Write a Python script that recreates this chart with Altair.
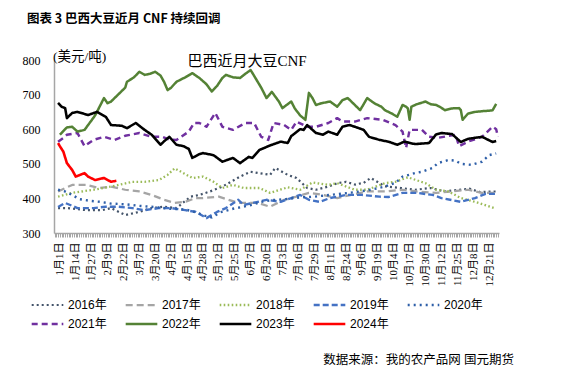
import altair as alt
import pandas as pd

# x positions are trading-day indices (label every 9 days, first label at day 1)
x_labels = ["1月1日", "1月14日", "1月27日", "2月9日", "2月22日", "3月7日", "3月20日",
            "4月2日", "4月15日", "4月28日", "5月12日", "5月25日", "6月7日", "6月20日",
            "7月3日", "7月16日", "7月29日", "8月11日", "8月24日", "9月6日", "9月19日",
            "10月4日", "10月17日", "10月30日", "11月12日", "11月25日", "12月8日", "12月21日"]

years = ["2016年", "2017年", "2018年", "2019年", "2020年",
         "2021年", "2022年", "2023年", "2024年"]

d2016 = [0, 5, 16, 25, 30, 38, 46, 53, 60, 67, 75, 80, 86, 93, 103, 109, 114, 120, 123, 130,
         135, 141, 146, 153, 158, 163, 168, 173, 177, 185, 194, 202, 211, 219, 227, 233, 239, 245, 248]
v2016 = [372, 372, 366, 366, 372, 352, 361, 372, 376, 372, 405, 410, 420, 434, 463, 477, 473, 468, 488, 468,
         459, 430, 425, 434, 444, 448, 440, 445, 459, 435, 430, 425, 430, 420, 425, 428, 418, 420, 420]

d2017 = [0, 8, 16, 23, 30, 38, 46, 53, 60, 66, 72, 78, 82, 91, 102, 113, 120, 128, 135, 142,
         150, 158, 166, 175, 185, 195, 203, 214, 223, 232, 240, 248]
v2017 = [420, 439, 439, 430, 434, 425, 420, 410, 396, 387, 390, 401, 401, 405, 387, 387, 376, 396, 405, 416,
         410, 401, 410, 420, 420, 425, 420, 416, 420, 425, 416, 416]

d2018 = [0, 8, 20, 30, 42, 49, 57, 62, 66, 71, 76, 82, 88, 93, 99, 105, 114, 120, 130, 137,
         144, 153, 158, 168, 175, 185, 191, 198, 208, 214, 221, 228, 236, 247]
v2018 = [405, 416, 425, 434, 448, 448, 453, 468, 487, 473, 459, 463, 448, 430, 439, 430, 430, 416, 432, 425,
         446, 439, 444, 425, 425, 444, 448, 461, 444, 425, 420, 401, 390, 372]

d2019 = [0, 4, 11, 20, 27, 34, 42, 49, 57, 64, 72, 78, 84, 90, 95, 102, 105, 113, 118, 126,
         132, 137, 142, 148, 154, 163, 172, 182, 187, 195, 203, 212, 217, 228, 236, 242, 248]
v2019 = [375, 387, 372, 372, 376, 376, 372, 366, 372, 372, 366, 361, 343, 361, 372, 396, 381, 390, 396, 390,
         401, 410, 396, 390, 401, 410, 410, 405, 404, 416, 416, 410, 401, 390, 401, 413, 413]

d2020 = [0, 4, 8, 12, 18, 24, 30, 38, 47, 55, 63, 72, 78, 83, 87, 92, 99, 104, 110, 115,
         121, 129, 137, 145, 154, 163, 171, 177, 185, 191, 195, 202, 206, 212, 215, 221, 225, 228,
         234, 240, 244, 248]
v2020 = [425, 420, 410, 398, 393, 390, 385, 383, 378, 375, 370, 368, 360, 350, 345, 360, 370, 375, 382, 390,
         395, 398, 403, 405, 410, 415, 420, 425, 434, 445, 463, 473, 477, 488, 502, 511, 509, 500,
         497, 506, 525, 530]

d2021 = [0, 3, 5, 11, 15, 20, 26, 32, 38, 46, 53, 59, 63, 67, 74, 77, 80, 84, 89, 93,
         99, 106, 111, 115, 119, 122, 128, 132, 135, 141, 146, 153, 158, 161, 168, 175, 184, 191,
         195, 197, 199, 206, 210, 215, 225, 227, 232, 240, 246, 248, 249]
v2021 = [564, 575, 584, 589, 551, 569, 578, 569, 581, 589, 578, 578, 570, 569, 593, 618, 618, 607, 647, 607,
         598, 618, 618, 578, 569, 618, 612, 598, 622, 607, 607, 618, 632, 622, 622, 632, 627, 612,
         593, 546, 598, 598, 578, 575, 584, 551, 564, 578, 607, 600, 578]

d2022 = [1, 4, 5, 8, 11, 15, 17, 21, 26, 28, 30, 34, 38, 39, 43, 46, 49, 52, 55, 58,
         60, 62, 64, 67, 72, 76, 80, 84, 87, 90, 93, 95, 99, 103, 106, 109, 113, 115, 118, 121,
         125, 127, 132, 134, 137, 140, 142, 144, 146, 149, 154, 158, 161, 164, 168, 171, 175, 179,
         183, 185, 189, 192, 195, 197, 198, 199, 200, 203, 208, 211, 214, 216, 219, 223, 227, 228,
         229, 232, 236, 240, 245, 246, 248]
v2022 = [584, 600, 605, 607, 593, 598, 612, 640, 690, 675, 680, 700, 720, 737, 750, 766, 757, 760, 766, 755,
         737, 713, 720, 737, 750, 762, 748, 730, 709, 725, 748, 757, 750, 748, 760, 771, 737, 720, 690, 708,
         680, 661, 680, 660, 640, 627, 705, 690, 670, 675, 680, 665, 684, 690, 670, 655, 690, 675,
         665, 655, 645, 636, 670, 665, 660, 627, 665, 672, 680, 672, 670, 665, 655, 660, 661, 655,
         627, 645, 650, 652, 654, 655, 673]

d2023 = [0, 2, 4, 5, 8, 11, 17, 22, 27, 30, 36, 39, 44, 49, 53, 58, 60, 63, 67, 71,
         74, 76, 80, 82, 88, 93, 99, 103, 108, 110, 114, 120, 126, 130, 132, 137, 139, 141, 146,
         150, 153, 158, 161, 165, 168, 173, 176, 182, 187, 192, 196, 202, 210, 214, 217, 223, 228,
         232, 236, 240, 244, 246, 248]
v2023 = [676, 665, 661, 632, 647, 650, 641, 650, 636, 612, 610, 603, 618, 598, 584, 555, 565, 578, 555, 551,
         543, 517, 528, 531, 525, 506, 517, 502, 520, 517, 540, 553, 564, 560, 580, 600, 598, 612, 589,
         584, 593, 584, 607, 612, 607, 598, 578, 569, 564, 555, 564, 557, 560, 585, 589, 586, 563,
         572, 575, 578, 568, 563, 566]

d2024 = [0, 1, 3, 5, 8, 10, 15, 17, 21, 26, 30, 33]
v2024 = [560, 551, 535, 502, 482, 463, 473, 463, 453, 459, 448, 451]

series = [(years[0], d2016, v2016), (years[1], d2017, v2017), (years[2], d2018, v2018),
          (years[3], d2019, v2019), (years[4], d2020, v2020), (years[5], d2021, v2021),
          (years[6], d2022, v2022), (years[7], d2023, v2023), (years[8], d2024, v2024)]

rows = []
for order, (yr, ds, vs) in enumerate(series):
    for d, v in zip(ds, vs):
        rows.append({"year": yr, "day": d, "price": v, "ord": order})
df = pd.DataFrame(rows)

colors = ["#44546A", "#A5A5A5", "#9BBB59", "#4472C4", "#2E5FA8",
          "#7030A0", "#548235", "#000000", "#FF0000"]
dashes = [[2, 3], [7, 4], [1.6, 2.4], [6, 3], [2, 4], [6, 4], [1, 0], [1, 0], [1, 0]]
widths = [2.2, 2.6, 2.0, 2.6, 2.4, 2.6, 2.6, 2.6, 3.6]

labels_js = "[" + ",".join("'" + s + "'" for s in x_labels) + "]"
label_expr = ("(datum.value - 1) % 9 == 0 && datum.value >= 1 ? "
              + labels_js + "[(datum.value - 1) / 9] : ''")

serif = "Liberation Serif, Noto Sans CJK SC"
cjk = "Noto Sans CJK SC"

legend = alt.Legend(orient="none", legendX=-24, legendY=238, direction="horizontal",
                    columns=5, symbolType="stroke", symbolSize=1000, clipHeight=14,
                    columnPadding=17, rowPadding=5, labelFont="Liberation Sans, Noto Sans CJK SC",
                    labelFontSize=12, labelColor="#000000", labelOffset=3, title=None)

lines = alt.Chart(df).mark_line(strokeCap="butt", strokeJoin="round").encode(
    x=alt.X("day:Q", scale=alt.Scale(domain=[-2.3, 249.6], nice=False, zero=False),
            axis=alt.Axis(values=list(range(-2, 250)), labelExpr=label_expr, labelAngle=270,
                          labelFont=serif, labelFontSize=11, labelColor="#000000",
                          labelOverlap=False, labelPadding=5, tickSize=4, tickColor="#A6A6A6",
                          domainColor="#A6A6A6", domainWidth=1.5, grid=False, title=None)),
    y=alt.Y("price:Q", scale=alt.Scale(domain=[300, 800], nice=False, zero=False),
            axis=alt.Axis(values=[300, 400, 500, 600, 700, 800], labelFont=serif, labelFontSize=12,
                          labelColor="#000000", ticks=False, labelPadding=14,
                          domainColor="#A6A6A6", domainWidth=1.5, grid=False, title=None)),
    color=alt.Color("year:N", scale=alt.Scale(domain=years, range=colors), legend=legend),
    strokeDash=alt.StrokeDash("year:N", scale=alt.Scale(domain=years, range=dashes), legend=legend),
    strokeWidth=alt.StrokeWidth("year:N", scale=alt.Scale(domain=years, range=widths), legend=legend),
    order=alt.Order("ord:Q"),
)

def note(text, x, y, size, font, align="left", weight="normal"):
    return alt.Chart(pd.DataFrame({"t": [text]})).mark_text(
        align=align, baseline="middle", fontSize=size, font=font, fontWeight=weight,
        color="#000000"
    ).encode(text="t:N", x=alt.value(x), y=alt.value(y))

title = note("图表 3 巴西大豆近月 CNF 持续回调", -27, -41, 12.5, cjk, weight="bold")
unit = note("(美元/吨)", -1, -3, 13.5, serif)
inner = note("巴西近月大豆CNF", 193, 1, 15, serif, align="center")
source = note("数据来源：我的农产品网 国元期货", 460, 300, 12.5, serif, align="right")

chart = alt.layer(lines, title, unit, inner, source).properties(
    width=445, height=173,
    autosize=alt.AutoSizeParams(type="none"),
    padding={"left": 46, "top": 52, "right": 56, "bottom": 143},
).configure_view(stroke=None)

chart.save("out.html", embed_options={"renderer": "svg", "actions": False})
